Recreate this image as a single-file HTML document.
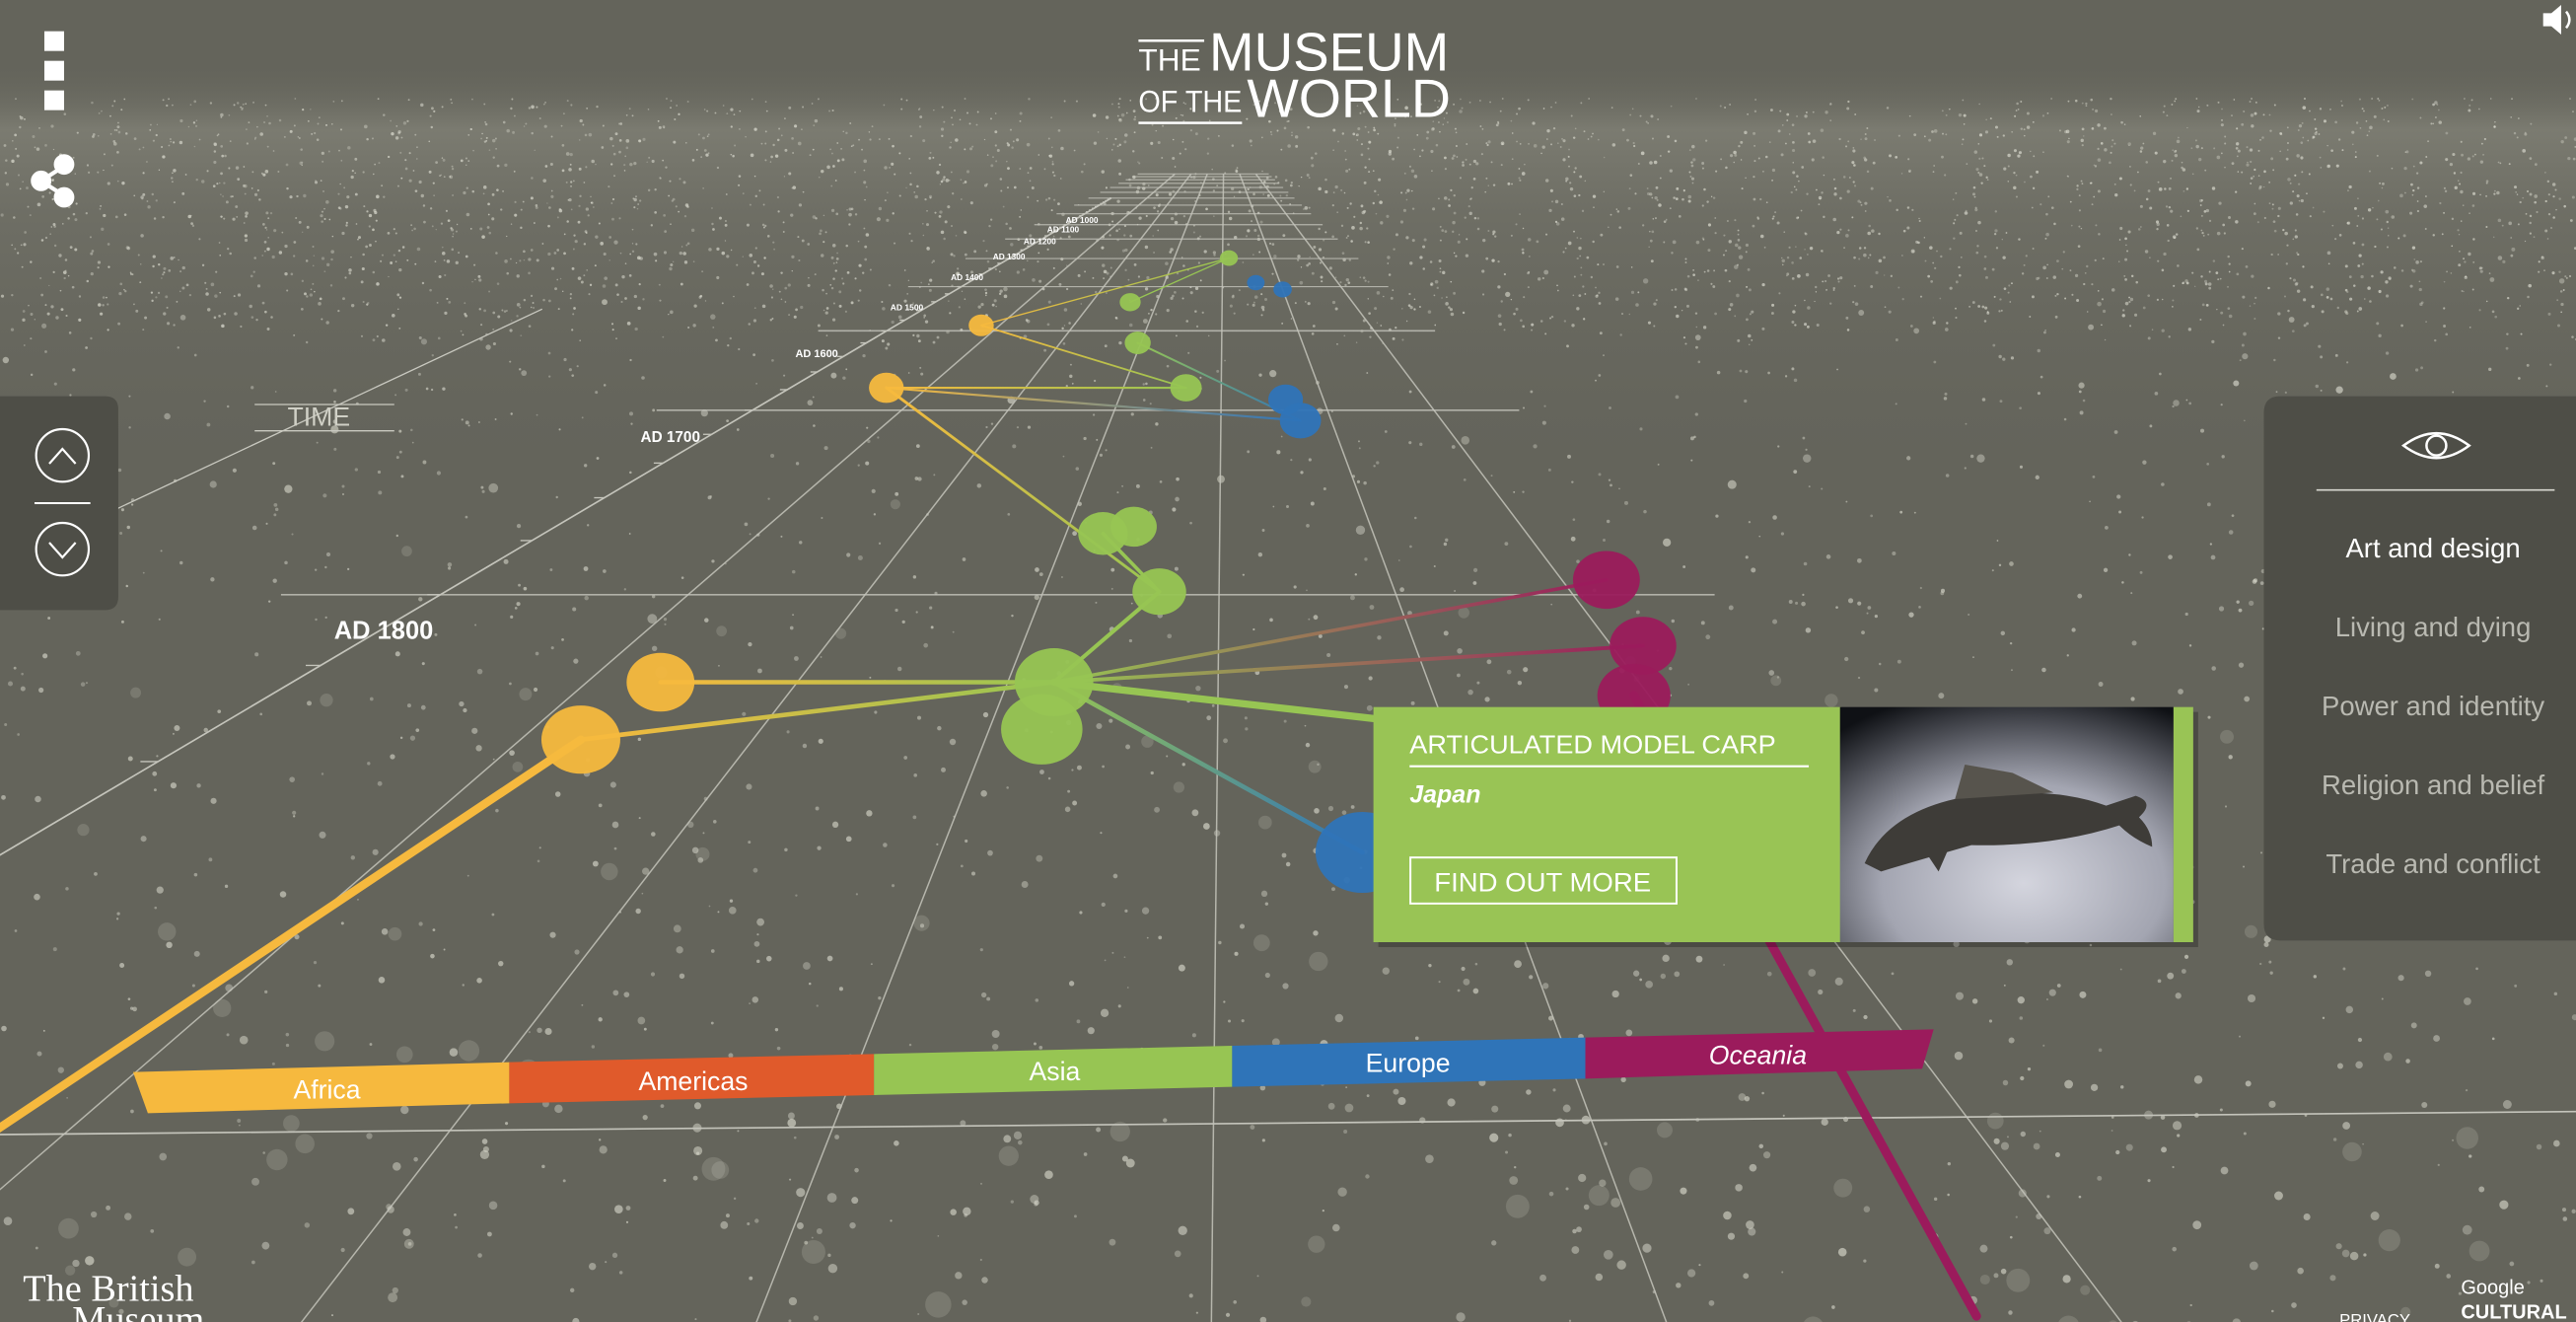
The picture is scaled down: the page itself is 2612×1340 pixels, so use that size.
<!DOCTYPE html>
<html><head><meta charset="utf-8"><style>
html,body{margin:0;padding:0;background:#64645b;overflow:hidden;width:2612px;height:1340px}
svg{display:block}
text{font-family:"Liberation Sans",sans-serif}
</style></head><body>
<svg id="scene" width="2612" height="1340" viewBox="0 0 1568 804" preserveAspectRatio="none" xmlns="http://www.w3.org/2000/svg" overflow="hidden">
<defs>
<linearGradient id="fog" x1="0" y1="0" x2="0" y2="1">
<stop offset="0" stop-color="#6a6a60" stop-opacity="0"/>
<stop offset="0.15" stop-color="#85857a" stop-opacity="0.7"/>
<stop offset="0.35" stop-color="#7a7a70" stop-opacity="0.45"/>
<stop offset="1" stop-color="#64645b" stop-opacity="0"/>
</linearGradient>
<radialGradient id="photo" cx="0.55" cy="0.75" r="0.85">
<stop offset="0" stop-color="#d4d5de"/><stop offset="0.5" stop-color="#a3a5b1"/><stop offset="1" stop-color="#0f1115"/>
</radialGradient>
<clipPath id="frame"><rect x="0" y="0" width="1568" height="804"/></clipPath>
</defs>
<g clip-path="url(#frame)">
<rect x="0" y="0" width="1568" height="804" fill="#64645b"/>
<rect x="0" y="40" width="1568" height="260" fill="url(#fog)"/>
<g id="dots"></g>
<g id="grid"></g>
<g id="edges"></g>
<g id="nodes"></g>

<g>
<line x1="155" y1="246" x2="240" y2="246" stroke="#c9c9c0" stroke-width="0.8"/>
<line x1="155" y1="262" x2="240" y2="262" stroke="#c9c9c0" stroke-width="0.8"/>
<line x1="70" y1="310" x2="330" y2="188" stroke="#c9c9c0" stroke-width="0.8"/>
<text x="175" y="259" font-size="16" fill="#d0d0c6">TIME</text>
</g>

<g>
<polygon points="81,652 310,646 310,671 90,677" fill="#f6b93e"/>
<polygon points="310,646 532,641 532,666 310,671" fill="#e05a2b"/>
<polygon points="532,641 750,636 750,661 532,666" fill="#97c553"/>
<polygon points="750,636 965,631 965,656 750,661" fill="#2f74b8"/>
<polygon points="965,631 1177,626 1170,650 965,656" fill="#9b1b5c"/>
<text x="199" y="668" font-size="16" fill="#fff" text-anchor="middle">Africa</text>
<text x="422" y="663" font-size="16" fill="#fff" text-anchor="middle">Americas</text>
<text x="642" y="657" font-size="16" fill="#fff" text-anchor="middle">Asia</text>
<text x="857" y="652" font-size="16" fill="#fff" text-anchor="middle">Europe</text>
<text x="1070" y="647" font-size="16" fill="#fff" text-anchor="middle" font-style="italic">Oceania</text>
</g>

<g fill="#fff">
<rect x="693" y="24" width="40" height="1.5"/>
<text x="693" y="43" font-size="19" textLength="38" lengthAdjust="spacingAndGlyphs">THE</text>
<text x="736" y="43" font-size="33" textLength="146" lengthAdjust="spacingAndGlyphs">MUSEUM</text>
<text x="693" y="68" font-size="19" textLength="63" lengthAdjust="spacingAndGlyphs">OF THE</text>
<rect x="693" y="74" width="63" height="1.5"/>
<text x="759" y="71" font-size="33" textLength="124" lengthAdjust="spacingAndGlyphs">WORLD</text>
</g>

<g fill="#fff">
<rect x="27" y="19" width="12" height="12"/><rect x="27" y="37" width="12" height="12"/><rect x="27" y="55" width="12" height="12"/>
</g>
<g fill="#fff" stroke="#fff" stroke-width="2.5">
<line x1="25" y1="110" x2="39" y2="101"/><line x1="25" y1="110" x2="39" y2="119"/>
<circle cx="25" cy="110" r="5"/><circle cx="39" cy="100" r="5"/><circle cx="39" cy="120" r="5"/>
</g>
<g fill="#fff">
<polygon points="1548,8 1553,8 1559,3 1559,21 1553,16 1548,16"/>
<path d="M1562,7 Q1566,12 1562,17" stroke="#fff" stroke-width="1.5" fill="none"/>
</g>

<g>
<path d="M0,241 H64 Q72,241 72,249 V363 Q72,371 64,371 H0 Z" fill="#4e4e47"/>
<g>
<circle cx="38" cy="277" r="16" fill="none" stroke="#fff" stroke-width="1.3"/>
<polyline points="30,282 38,273 46,282" fill="none" stroke="#fff" stroke-width="1.3"/>
</g>
<line x1="21" y1="306" x2="55" y2="306" stroke="#fff" stroke-width="1.2"/>
<g>
<circle cx="38" cy="334" r="16" fill="none" stroke="#fff" stroke-width="1.3"/>
<polyline points="30,330 38,339 46,330" fill="none" stroke="#fff" stroke-width="1.3"/>
</g>
</g>

<g>
<path d="M1388,241 H1568 V572 H1388 Q1378,572 1378,562 V251 Q1378,241 1388,241 Z" fill="#4e4e47"/>
<g>
<path d="M1463,271 Q1483,256 1503,271 Q1483,286 1463,271 Z" fill="none" stroke="#fff" stroke-width="1.5"/>
<circle cx="1483" cy="271" r="6" fill="none" stroke="#fff" stroke-width="1.5"/>
</g>
<line x1="1410" y1="298" x2="1555" y2="298" stroke="#d8d8d0" stroke-width="1"/>
<text x="1481" y="339" font-size="16.5" fill="#fff" text-anchor="middle">Art and design</text>
<text x="1481" y="387" font-size="16.5" fill="#b9b9b1" text-anchor="middle">Living and dying</text>
<text x="1481" y="435" font-size="16.5" fill="#b9b9b1" text-anchor="middle">Power and identity</text>
<text x="1481" y="483" font-size="16.5" fill="#b9b9b1" text-anchor="middle">Religion and belief</text>
<text x="1481" y="531" font-size="16.5" fill="#b9b9b1" text-anchor="middle">Trade and conflict</text>
</g>

<g>
<rect x="839" y="433" width="499" height="143" fill="#000" opacity="0.25"/>
<rect x="836" y="430" width="285" height="143" fill="#99c455"/>
<rect x="1120" y="430" width="203" height="143" fill="url(#photo)"/>
<g fill="#3e3c38">
<path d="M1135,525 Q1150,492 1200,484 Q1250,478 1282,490 L1300,484 Q1312,488 1302,497 Q1310,505 1310,515 Q1298,510 1290,502 Q1250,515 1200,514 Q1165,524 1145,530 Z"/>
<path d="M1190,486 L1196,465 L1225,470 L1250,482 Z" fill="#57544d"/>
<path d="M1170,515 L1180,530 L1187,514 Z"/>
</g>
<rect x="1323" y="430" width="12" height="143" fill="#99c455"/>
<text x="858" y="458" font-size="15.5" fill="#fff" textLength="223" lengthAdjust="spacingAndGlyphs">ARTICULATED MODEL CARP</text>
<line x1="858" y1="466" x2="1101" y2="466" stroke="#fff" stroke-width="1.3"/>
<text x="858" y="488" font-size="15" font-style="italic" font-weight="bold" fill="#fff">Japan</text>
<g>
<rect x="858.5" y="521.5" width="162" height="28" fill="none" stroke="#fff" stroke-width="1.2"/>
<text x="939" y="542" font-size="16" fill="#fff" text-anchor="middle" textLength="132" lengthAdjust="spacingAndGlyphs">FIND OUT MORE</text>
</g>
</g>

<text x="14" y="791" style="font-family:'Liberation Serif',serif" font-size="23" fill="#fff" textLength="104" lengthAdjust="spacingAndGlyphs">The British</text>
<text x="44" y="810" style="font-family:'Liberation Serif',serif" font-size="23" fill="#fff">Museum</text>
<text x="1424" y="806" font-size="10" fill="#fff">PRIVACY</text>
<text x="1498" y="787" font-size="12" fill="#fff">Google</text>
<text x="1498" y="802" font-size="12" font-weight="bold" fill="#fff">CULTURAL</text>
</g>
</svg>
<script>
// ---- chart data ----
const regionNames = ["Africa","Americas","Asia","Europe","Oceania"];
const regionColors = ["#f6b93e","#e05a2b","#97c553","#2f74b8","#9b1b5c"];
const gridYears = [300,400,500,600,700,800,900,1000,1100,1200,1300,1400,1500,1600,1700,1800];
const labelYears = [1000,1100,1200,1300,1400,1500,1600,1700,1800];
const laneEdges = [0,1,2,3,4,5];
// nodes: year, lane position (0..5 across bands), region index, size factor (0 = hidden anchor)
const nodeYear   = [1836,1824,1678,1590,1824,1834,1799,1777,1774,1678,1620,1541,1398,1709,1690,1508,1488,1854,1795,1815,1827,1882,1832,1892];
const nodeLane   = [0.26,0.35,-0.42,-0.25,2.22,2.23,2.66,2.24,2.43,2.64,1.96,1.59,3.13,3.72,3.63,4.0,3.58,3.53,5.26,5.16,4.93,-0.2,3.72,4.69];
const nodeRegion = [0,0,0,0,2,2,2,2,2,2,2,2,2,3,3,3,3,3,4,4,4,0,2,4];
const nodeSize   = [1.0,0.95,1.05,1.0,1.1,1.05,0.9,0.95,0.9,0.95,0.95,0.95,1.1,1.1,1.0,0.9,0.9,1.0,1.15,1.0,1.0,0,0,0];
const edgeFrom = [21,0,1,4,4,4,4,4,6,6,2,2,3,3,10,12,20,7];
const edgeTo   = [0,4,4,6,18,19,22,17,2,7,13,9,12,9,13,11,23,6];
const edgeWidth= [1.3,1,1,1,0.9,0.9,1.6,0.9,1,1,1,1,1,1,1,0.8,1.3,1];

// ---- projection ----
const VPX=745, VPY=80, BASEY=650;
function yearToY(yr){return VPY+1/(0.00355+(1800-yr)*0.0000235);}
function scaleAt(y){return (y-VPY)/(BASEY-VPY);}
function laneToX(lane,y){return VPX+(85+lane*218-VPX)*scaleAt(y);}
const NS="http://www.w3.org/2000/svg";
function mk(tag,attrs,parent){const e=document.createElementNS(NS,tag);for(const k in attrs)e.setAttribute(k,attrs[k]);parent.appendChild(e);return e;}

// particles (decorative texture)
const dots=document.getElementById('dots');
let seed=7;function rnd(){seed=(seed*16807)%2147483647;return seed/2147483647;}
for(let i=0;i<2600;i++){
  const y=60+Math.pow(rnd(),1.6)*760, x=rnd()*1568;
  const s=Math.max(0.05,(y-60)/600);
  const r=0.5+rnd()*2.2*s+(rnd()<0.06?4*s:0);
  const c=mk('circle',{cx:x.toFixed(1),cy:y.toFixed(1),r:r.toFixed(2),fill:'#d8d8cc','fill-opacity':(r>3?0.18:0.35+rnd()*0.3).toFixed(2)},dots);
  
  
}
for(let i=0;i<2500;i++){
  const y=70+rnd()*130+Math.sin(rnd()*6)*10, x=rnd()*1568;
  const c=mk('circle',{cx:x.toFixed(1),cy:y.toFixed(1),r:(0.4+rnd()*0.7).toFixed(2),fill:'#e0e0d4','fill-opacity':(0.3+rnd()*0.4).toFixed(2)},dots);
  
  
}

// grid
const grid=document.getElementById('grid');
gridYears.forEach(yr=>{
  const y=yearToY(yr);
  const l=mk('line',{x1:laneToX(-2.3,y),y1:y,x2:laneToX(5.8,y),y2:y,stroke:'#c4c4bb','stroke-width':yr>=1600?1:0.7,'stroke-opacity':0.8},grid);
  
  
});
{const l=mk('line',{x1:0,y1:690,x2:1568,y2:676,stroke:'#c4c4bb','stroke-width':1},grid);
 
 }
laneEdges.forEach(ln=>{
  const y0=yearToY(300), y1=860;
  const l=mk('line',{x1:laneToX(ln,y0),y1:y0,x2:laneToX(ln,y1),y2:y1,stroke:'#c4c4bb','stroke-width':0.9,'stroke-opacity':0.85},grid);
  
  
});
{const ya=yearToY(900), yb=yearToY(1890);
 const ax=mk('line',{x1:laneToX(-1.4,ya),y1:ya,x2:laneToX(-1.4,yb),y2:yb,stroke:'#c4c4bb','stroke-width':1},grid);
 
 
 for(let yr=900;yr<=1880;yr+=20){const y=yearToY(yr);const x=laneToX(-1.4,y);const s=scaleAt(y);
  const t=mk('line',{x1:x,y1:y,x2:x-16*s,y2:y,stroke:'#c4c4bb','stroke-width':0.8},grid);
  
  }
}
labelYears.forEach(yr=>{
  const y=yearToY(yr), s=scaleAt(y);
  const lane=Math.max(-2.6,-2.0-0.0045*(1800-yr));
  const t=mk('text',{x:laneToX(lane,y),y:y+8+38*s,'font-size':Math.max(5,31*s).toFixed(1),'font-weight':'bold',fill:'#fff'},grid);
  t.textContent='AD '+yr;
  
  
});

const P=nodeYear.map((yr,i)=>{const y=yearToY(yr);return {x:laneToX(nodeLane[i],y),y:y,s:scaleAt(y)};});
const edges=document.getElementById('edges');const defs=document.querySelector('defs');
edgeFrom.forEach((a,i)=>{
  const b=edgeTo[i],A=P[a],B=P[b];
  const g=mk('linearGradient',{id:'eg'+i,gradientUnits:'userSpaceOnUse',x1:A.x,y1:A.y,x2:B.x,y2:B.y},defs);
  mk('stop',{offset:0,'stop-color':regionColors[nodeRegion[a]]},g);
  mk('stop',{offset:1,'stop-color':regionColors[nodeRegion[b]]},g);
  const w=Math.max(0.8,4.5*edgeWidth[i]*Math.min(1.2,(A.s+B.s)/2));
  const l=mk('line',{x1:A.x,y1:A.y,x2:B.x,y2:B.y,stroke:'url(#eg'+i+')','stroke-width':w.toFixed(2),'stroke-linecap':'round'},edges);
  
  
});
const nodes=document.getElementById('nodes');
const order=P.map((p,i)=>i).sort((a,b)=>P[a].y-P[b].y);
order.forEach(i=>{
  if(nodeSize[i]<=0)return;
  const p=P[i];
  const e=mk('ellipse',{cx:p.x,cy:p.y,rx:(37*p.s*nodeSize[i]).toFixed(2),ry:(32*p.s*nodeSize[i]).toFixed(2),fill:regionColors[nodeRegion[i]],'fill-opacity':0.95},nodes);
  
  
});
</script>
</body></html>
